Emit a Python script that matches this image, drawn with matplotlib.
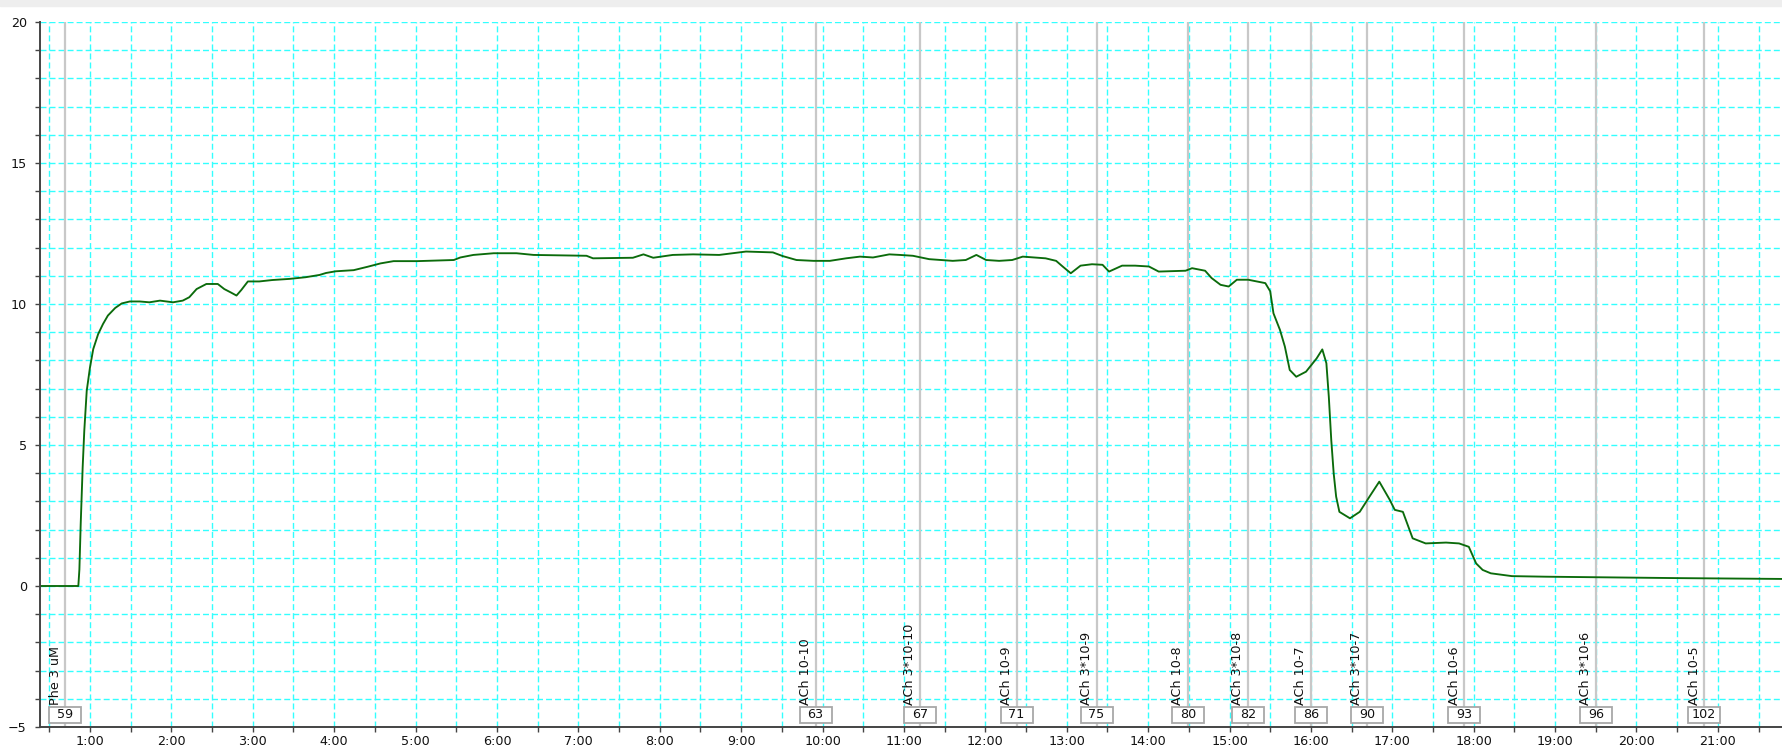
import numpy as np
import matplotlib.pyplot as plt
from matplotlib.patches import Rectangle
from matplotlib.ticker import MultipleLocator, FuncFormatter

# trace (time in minutes, tension)
time_min = [0.39, 0.857, 0.87, 0.886, 0.91, 0.93, 0.96, 1.0, 1.04, 1.10,
            1.16, 1.22, 1.31, 1.39, 1.49, 1.61, 1.73, 1.86, 2.02, 2.14,
            2.22, 2.31, 2.43, 2.57, 2.65, 2.73, 2.80, 2.86, 2.94, 3.08,
            3.24, 3.45, 3.65, 3.82, 3.90, 4.02, 4.24, 4.41, 4.57, 4.73,
            5.02, 5.47, 5.55, 5.71, 5.96, 6.24, 6.45, 7.10, 7.18, 7.67,
            7.80, 7.92, 8.16, 8.41, 8.73, 8.90, 9.06, 9.39, 9.51, 9.68,
            9.89, 10.09, 10.29, 10.46, 10.62, 10.82, 10.95, 11.11, 11.31, 11.60,
            11.76, 11.89, 12.01, 12.17, 12.33, 12.46, 12.74, 12.87, 12.95, 13.05,
            13.17, 13.31, 13.44, 13.52, 13.68, 13.84, 14.01, 14.13, 14.46, 14.54,
            14.70, 14.78, 14.89, 14.99, 15.09, 15.23, 15.44, 15.50, 15.54, 15.62,
            15.68, 15.74, 15.82, 15.94, 16.07, 16.14, 16.19, 16.22, 16.25, 16.28,
            16.31, 16.35, 16.48, 16.60, 16.72, 16.84, 16.97, 17.03, 17.13, 17.25,
            17.41, 17.66, 17.82, 17.94, 18.03, 18.11, 18.21, 18.47, 18.88, 19.5,
            20.5, 21.8]
tension = [0, 0, 0.59, 2.19, 4.2, 5.5, 6.92, 7.75, 8.4, 8.93,
           9.29, 9.59, 9.86, 10.02, 10.09, 10.09, 10.06, 10.12, 10.06, 10.12,
           10.24, 10.53, 10.71, 10.71, 10.53, 10.41, 10.30, 10.50, 10.80, 10.80,
           10.85, 10.89, 10.95, 11.03, 11.10, 11.16, 11.20, 11.32, 11.44, 11.52,
           11.52, 11.56, 11.65, 11.74, 11.80, 11.80, 11.74, 11.71, 11.62, 11.64,
           11.76, 11.64, 11.74, 11.76, 11.74, 11.80, 11.86, 11.83, 11.70, 11.56,
           11.53, 11.53, 11.62, 11.68, 11.65, 11.76, 11.74, 11.71, 11.59, 11.53,
           11.56, 11.74, 11.56, 11.53, 11.56, 11.68, 11.62, 11.53, 11.33, 11.09,
           11.36, 11.41, 11.39, 11.15, 11.36, 11.36, 11.33, 11.15, 11.18, 11.27,
           11.18, 10.92, 10.68, 10.62, 10.86, 10.86, 10.74, 10.45, 9.67, 9.08,
           8.49, 7.66, 7.42, 7.60, 8.07, 8.39, 7.90, 6.71, 5.18, 3.99,
           3.17, 2.63, 2.40, 2.63, 3.17, 3.70, 3.05, 2.70, 2.63, 1.69,
           1.51, 1.54, 1.51, 1.39, 0.80, 0.57, 0.45, 0.35, 0.33, 0.31,
           0.28, 0.25]

# event markers
event_times = [0.693, 9.915, 11.197, 12.384, 13.367, 14.489, 15.226, 16.0, 16.688, 17.886, 19.50, 20.83]
event_labels = ["Phe 3 uM", "ACh 10-10", "ACh 3*10-10", "ACh 10-9", "ACh 3*10-9", "ACh 10-8",
                "ACh 3*10-8", "ACh 10-7", "ACh 3*10-7", "ACh 10-6", "ACh 3*10-6", "ACh 10-5"]
event_ids = ["59", "63", "67", "71", "75", "80", "82", "86", "90", "93", "96", "102"]

plt.rcParams['font.family'] = 'DejaVu Sans'
fig = plt.figure(figsize=(17.83, 7.49), dpi=100)
fig.patches.append(Rectangle((0, 1 - 6 / 749), 1, 6 / 749, transform=fig.transFigure,
                             color='#eeeeee', zorder=0))
ax = fig.add_axes([40 / 1783, 22 / 749, 1 - 40 / 1783, 705 / 749])

ax.set_xlim(0.386, 21.8)
ax.set_ylim(-5, 20)

# grid
ax.xaxis.set_major_locator(MultipleLocator(1))
ax.xaxis.set_minor_locator(MultipleLocator(0.5))
ax.yaxis.set_major_locator(MultipleLocator(5))
ax.yaxis.set_minor_locator(MultipleLocator(1))
ax.xaxis.set_major_formatter(FuncFormatter(lambda v, p: "%d:00" % round(v)))
ax.grid(which='both', color='#33ffff', linestyle=(0, (4.3, 2.2)), linewidth=1.0, zorder=0)
ax.set_axisbelow(True)

# event lines and labels
for t, lab, n in zip(event_times, event_labels, event_ids):
    ax.axvline(t, color='#c8c8c8', linewidth=1.6, zorder=1)
    ax.annotate(lab, (t, -4.22), xytext=(-2.5, 0), textcoords='offset points',
                rotation=90, ha='right', va='bottom', fontsize=9.2, color='#111111')
    ax.add_patch(Rectangle((t - 0.196, -4.86), 0.392, 0.57, facecolor='white',
                           edgecolor='#a8a8a8', linewidth=1.3, zorder=3))
    ax.text(t, -4.57, n, ha='center', va='center', fontsize=9.2, color='#111111', zorder=4)

ax.plot(time_min, tension, color='#0b6b0b', linewidth=1.35, zorder=2)

for s in ['top', 'right']:
    ax.spines[s].set_visible(False)
for s in ['left', 'bottom']:
    ax.spines[s].set_color('#444444')
    ax.spines[s].set_linewidth(1.4)
ax.tick_params(axis='both', which='both', colors='#444444', labelcolor='#111111',
               labelsize=9.2, length=3.5, width=1)
ax.tick_params(axis='y', pad=6)
ax.tick_params(axis='x', pad=2)

fig.savefig('out.png', dpi=100)
